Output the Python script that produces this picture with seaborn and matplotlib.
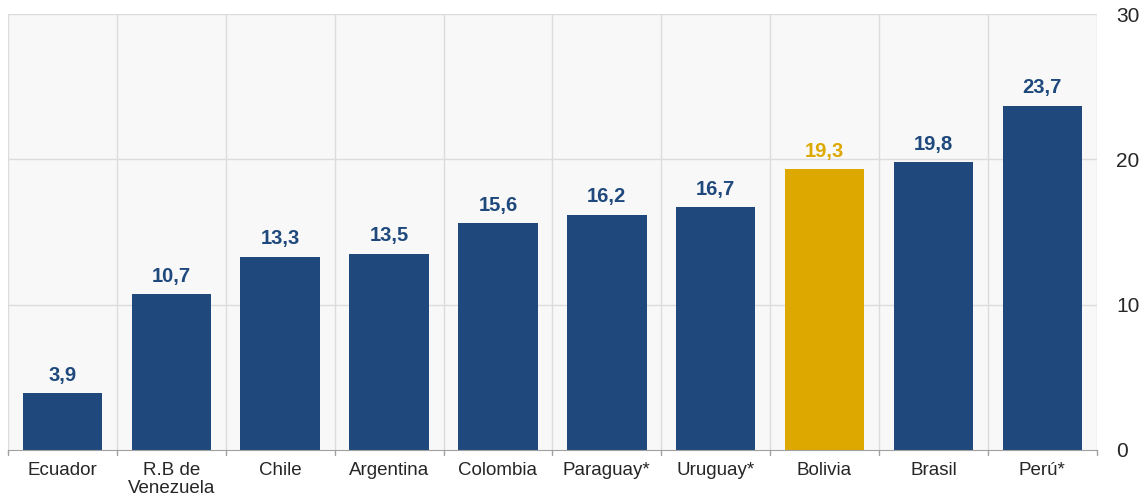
import matplotlib
matplotlib.use("Agg")
import matplotlib.pyplot as plt
import seaborn as sns
import pandas as pd

paises = ["Ecuador", "R.B de\nVenezuela", "Chile", "Argentina", "Colombia",
          "Paraguay*", "Uruguay*", "Bolivia", "Brasil", "Perú*"]
valores = [3.9, 10.7, 13.3, 13.5, 15.6, 16.2, 16.7, 19.3, 19.8, 23.7]
resaltado = "Bolivia"

azul = "#1F497D"
oro = "#DDA800"
colores = {p: (oro if p == resaltado else azul) for p in paises}

df = pd.DataFrame({"pais": paises, "valor": valores})

sns.set_style("white")
plt.rcParams["font.family"] = ["Liberation Sans", "DejaVu Sans"]

fig = plt.figure(figsize=(11.46, 5.01), dpi=100)
ax = fig.add_axes([0.007, 0.102, 0.950, 0.870])
ax.set_facecolor("#f8f8f8")

sns.barplot(data=df, x="pais", y="valor", hue="pais", palette=colores,
            width=0.73, legend=False, ax=ax, zorder=3, saturation=1,
            linewidth=0)

ax.set_ylim(0, 30)
ax.set_xlim(-0.5, len(paises) - 0.5)
ax.set_yticks([0, 10, 20, 30])
ax.yaxis.tick_right()
ax.tick_params(axis="y", length=0, labelsize=15, pad=14)
ax.set_xticks(range(len(paises)))
ax.set_xticklabels(paises, fontsize=13.5, linespacing=1.05)
ax.tick_params(axis="x", length=0, pad=9)

# rejilla
for y in [10, 20, 30]:
    ax.axhline(y, color="#dcdcdc", lw=1, zorder=1)
for i in range(len(paises) + 1):
    ax.axvline(i - 0.5, color="#dcdcdc", lw=1, zorder=1)
    ax.plot([i - 0.5, i - 0.5], [0, -0.35], color="#a0a0a0", lw=1,
            clip_on=False, zorder=4)

for s in ["top", "right", "left"]:
    ax.spines[s].set_visible(False)
ax.spines["bottom"].set_color("#a0a0a0")
ax.spines["bottom"].set_zorder(4)

for i, (p, v) in enumerate(zip(paises, valores)):
    ax.text(i, v + 0.6, f"{v:.1f}".replace(".", ","), ha="center", va="bottom",
            fontsize=14.5, fontweight="bold", color=colores[p])

ax.set_xlabel("")
ax.set_ylabel("")

fig.savefig("out.png", dpi=100)
